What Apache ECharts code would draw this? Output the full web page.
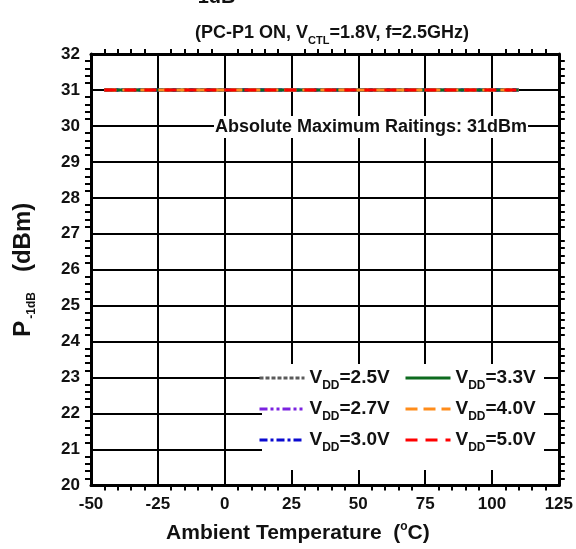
<!DOCTYPE html>
<html><head><meta charset="utf-8">
<script src="https://cdn.jsdelivr.net/npm/echarts@6/dist/echarts.min.js"></script>
<style>html,body{margin:0;padding:0;background:#fff}#c{width:576px;height:549px}</style>
</head><body><div id="c"></div>
<script>
const temps = [-45, -25, 0, 25, 50, 75, 100, 110];
const vdd25 = [31, 31, 31, 31, 31, 31, 31, 31];
const vdd27 = [31, 31, 31, 31, 31, 31, 31, 31];
const vdd30 = [31, 31, 31, 31, 31, 31, 31, 31];
const vdd33 = [31, 31, 31, 31, 31, 31, 31, 31];
const vdd40 = [31, 31, 31, 31, 31, 31, 31, 31];
const vdd50 = [31, 31, 31, 31, 31, 31, 31, 31];
const seriesNames = ['2.5V', '2.7V', '3.0V', '3.3V', '4.0V', '5.0V'];

const FONT = '"Liberation Sans", Arial, sans-serif';
const pair = (xs, ys) => xs.map((x, i) => [x, ys[i]]);
const styles = [
  {color: '#5a5a5a', type: [4, 2], width: 3},
  {color: '#7b22e0', type: [8, 3, 3, 3, 3, 3], width: 3},
  {color: '#0a0ad0', type: [8, 3, 3, 3], width: 3},
  {color: '#0d6b1e', type: 'solid', width: 3},
  {color: '#ff8c1a', type: [12, 6], width: 3},
  {color: '#ff0000', type: [12, 8], width: 3}
];
const datas = [vdd25, vdd27, vdd30, vdd33, vdd40, vdd50];
const series = seriesNames.map((n, i) => ({
  name: n, type: 'line', symbol: 'none', showSymbol: false, data: pair(temps, datas[i]),
  lineStyle: styles[i], itemStyle: {color: styles[i].color}, z: 3 + i
}));

const legRich = {
  v: {fontFamily: FONT, fontWeight: 'bold', fontSize: 19, color: '#111', lineHeight: 22},
  sub: {fontFamily: FONT, fontWeight: 'bold', fontSize: 12, color: '#111', lineHeight: 22, padding: [16,0,0,0]}
};
const legFmt = n => '{v|V}{sub|DD}{v|=' + n + '}';
const legendBase = {
  orient: 'vertical', itemWidth: 45, itemHeight: 14, itemGap: 3,
  formatter: legFmt, itemStyle: {opacity: 0, borderWidth: 0}, lineStyle: {width: 3},
  textStyle: {rich: legRich}, z: 20, selectedMode: false
};

const chart = echarts.init(document.getElementById('c'), null, {renderer: 'canvas'});
const tickLbl = {fontFamily: FONT, fontWeight: 'bold', fontSize: 17, color: '#111'};
chart.setOption({
  animation: false,
  backgroundColor: '#fff',
  title: {
    text: '(PC-P1 ON, V{sub|CTL}=1.8V, f=2.5GHz)',
    left: 327, top: 15, textAlign: 'center',
    textStyle: {fontFamily: FONT, fontWeight: 'bold', fontSize: 18, color: '#111',
      rich: {sub: {fontFamily: FONT, fontWeight: 'bold', fontSize: 11, color: '#111', padding: [15,0,0,0]}}}
  },
  grid: {left: 91, right: 16, top: 54, bottom: 59, containLabel: false},
  legend: [
    Object.assign({}, legendBase, {data: ['2.5V', '2.7V', '3.0V'], left: 253, top: 359}),
    Object.assign({}, legendBase, {data: ['3.3V', '4.0V', '5.0V'], left: 399, top: 359})
  ],
  xAxis: [{
    type: 'value', min: -50, max: 125, interval: 25, position: 'bottom',
    name: 'Ambient Temperature  ({sup|o}C)', nameLocation: 'middle', nameGap: 48,
    nameTextStyle: {fontFamily: FONT, fontWeight: 'bold', fontSize: 21, color: '#111', padding: [0, 54, 0, 0],
      verticalAlign: 'middle',
      rich: {sup: {fontFamily: FONT, fontWeight: 'bold', fontSize: 12, color: '#111', padding: [0,0,14,0]}}},
    axisLine: {show: true, onZero: false, lineStyle: {color: '#000', width: 3}},
    axisTick: {show: false},
    minorTick: {show: true, splitNumber: 5, length: 5, lineStyle: {color: '#000', width: 2}},
    axisLabel: Object.assign({margin: 19, verticalAlign: 'middle'}, tickLbl),
    splitLine: {show: true, lineStyle: {color: '#000', width: 2}}
  }, {
    type: 'value', min: -50, max: 125, interval: 25, position: 'top',
    axisLine: {show: true, onZero: false, lineStyle: {color: '#000', width: 3}},
    axisTick: {show: false},
    minorTick: {show: true, splitNumber: 5, length: 5, lineStyle: {color: '#000', width: 2}},
    axisLabel: {show: false}, splitLine: {show: false}
  }],
  yAxis: [{
    type: 'value', min: 20, max: 32, interval: 1, position: 'left',
    name: 'P{sub|-1dB}   (dBm)', nameLocation: 'middle', nameGap: 53, nameRotate: 90,
    nameTextStyle: {fontFamily: FONT, fontWeight: 'bold', fontSize: 24, color: '#111',
      rich: {sub: {fontFamily: FONT, fontWeight: 'bold', fontSize: 12, color: '#111', padding: [18,0,0,2]}}},
    axisLine: {show: true, onZero: false, lineStyle: {color: '#000', width: 3}},
    axisTick: {show: false},
    minorTick: {show: true, splitNumber: 5, length: 6, lineStyle: {color: '#000', width: 2}},
    axisLabel: Object.assign({margin: 11}, tickLbl),
    splitLine: {show: true, lineStyle: {color: '#000', width: 2}}
  }, {
    type: 'value', min: 20, max: 32, interval: 1, position: 'right',
    axisLine: {show: true, onZero: false, lineStyle: {color: '#000', width: 3}},
    axisTick: {show: false},
    minorTick: {show: true, splitNumber: 5, length: 6, lineStyle: {color: '#000', width: 2}},
    axisLabel: {show: false}, splitLine: {show: false}
  }],
  graphic: [
    {type: 'rect', shape: {x: 262, y: 364, width: 282, height: 106}, style: {fill: '#fff'}, z: 10},
    {type: 'text', x: 371, y: 127, z: 10,
      style: {text: 'Absolute Maximum Raitings: 31dBm', fontFamily: FONT, fontWeight: 'bold', fontSize: 18,
        fill: '#111', align: 'center', verticalAlign: 'middle', backgroundColor: '#fff', padding: [2, 1]}},
    {type: 'text', x: 191, y: -13, z: 10,
      style: {text: '-1dB', fontFamily: FONT, fontWeight: 'bold', fontSize: 20, fill: '#111'}}
  ],
  series: series
});
</script>
</body></html>
